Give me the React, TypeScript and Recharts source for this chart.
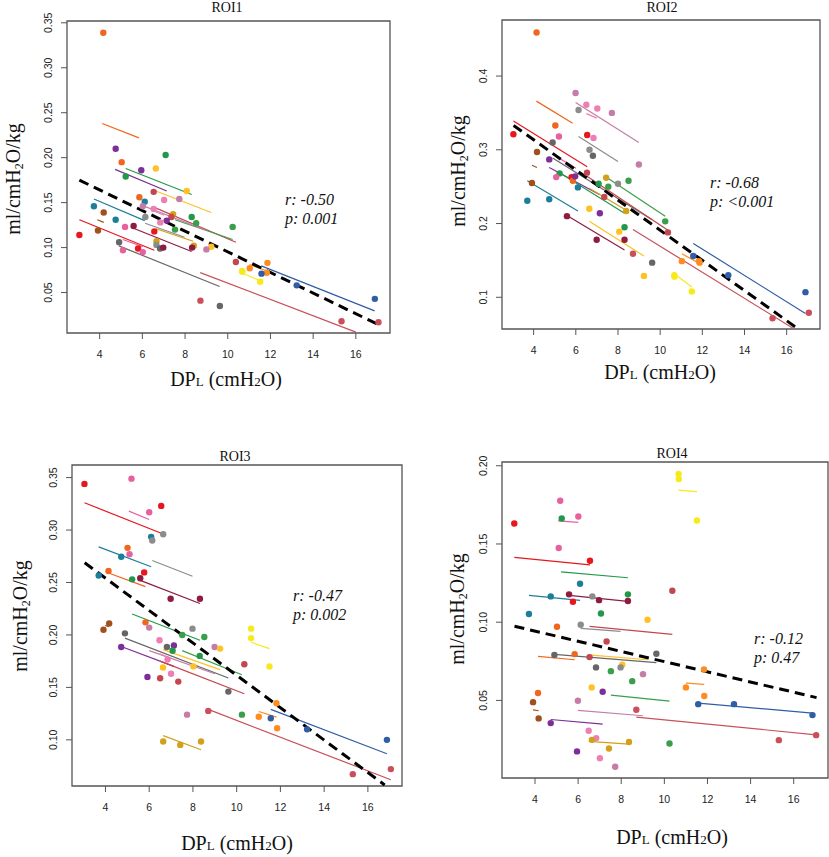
import React from 'react';
import { ScatterChart, Scatter, XAxis, YAxis, ReferenceLine, ReferenceArea } from 'recharts';

// [DPL, value, subject]
type Pt = [number, number, string];
// [subject, x1, y1, x2, y2] per-subject fitted line
type Seg = [string, number, number, number, number];

const SUBJECT_COLORS: Record<string, string> = {
  A: '#e8161e', B: '#f0661e', C: '#7d2e98', D: '#22994a', E: '#3a9e4a',
  F: '#ffc125', G: '#f7ea1c', H: '#1d7e98', I: '#a0501c', J: '#e8619f',
  T: '#ee7fb4', K: '#c57da8', L: '#8c8c8c', M: '#666666', N: '#8e1b40',
  O: '#c2474f', P: '#c9505a', Q: '#d2a01c', R: '#2f5da6', S: '#ff8c21',
};

const X_TICKS = [4, 6, 8, 10, 12, 14, 16];
const ROI1_Y_TICKS = [0.05, 0.1, 0.15, 0.2, 0.25, 0.3, 0.35];
const ROI2_Y_TICKS = [0.1, 0.2, 0.3, 0.4];
const ROI3_Y_TICKS = [0.1, 0.15, 0.2, 0.25, 0.3, 0.35];
const ROI4_Y_TICKS = [0.05, 0.1, 0.15, 0.2];

const ROI1_POINTS: Pt[] = [
  [4.17, 0.339, 'B'], [4.75, 0.21, 'C'], [5.03, 0.195, 'B'], [5.22, 0.179, 'D'], [5.95, 0.186, 'C'],
  [6.63, 0.188, 'F'], [7.09, 0.203, 'D'], [8.08, 0.163, 'F'], [6.53, 0.162, 'O'], [5.86, 0.156, 'B'],
  [6.11, 0.151, 'H'], [7.02, 0.153, 'T'], [7.73, 0.154, 'K'], [3.73, 0.146, 'H'], [6.02, 0.146, 'K'],
  [6.53, 0.143, 'T'], [4.19, 0.139, 'I'], [7.44, 0.137, 'Q'], [6.14, 0.134, 'L'], [7.36, 0.134, 'O'],
  [8.31, 0.134, 'D'], [8.52, 0.127, 'E'], [6.84, 0.128, 'T'], [7.14, 0.13, 'C'], [4.75, 0.131, 'H'],
  [7.53, 0.12, 'E'], [10.23, 0.123, 'E'], [3.05, 0.114, 'A'], [3.92, 0.119, 'I'], [5.19, 0.123, 'J'],
  [5.59, 0.124, 'N'], [6.56, 0.118, 'A'], [6.66, 0.107, 'Q'], [4.91, 0.106, 'M'], [8.41, 0.102, 'Q'],
  [9.23, 0.101, 'F'], [8.33, 0.1, 'N'], [6.66, 0.103, 'L'], [6.83, 0.099, 'M'], [6.98, 0.1, 'N'],
  [9.0, 0.098, 'K'], [5.09, 0.097, 'J'], [5.8, 0.099, 'A'], [6.02, 0.095, 'J'], [10.38, 0.084, 'O'],
  [11.03, 0.077, 'S'], [11.86, 0.083, 'S'], [11.83, 0.072, 'S'], [10.69, 0.073, 'G'], [10.67, 0.074, 'G'],
  [11.52, 0.062, 'G'], [11.58, 0.071, 'R'], [13.23, 0.058, 'R'], [16.89, 0.043, 'R'], [8.72, 0.041, 'P'],
  [9.63, 0.035, 'M'], [15.33, 0.018, 'P'], [17.06, 0.017, 'P'],
];
const ROI1_LINES: Seg[] = [
  ['B', 4.12, 0.238, 5.84, 0.222], ['C', 4.72, 0.187, 7.14, 0.163], ['D', 5.22, 0.188, 8.31, 0.159],
  ['F', 6.63, 0.163, 9.23, 0.139], ['O', 6.53, 0.145, 10.38, 0.106], ['E', 7.53, 0.131, 10.23, 0.109],
  ['H', 3.73, 0.154, 6.11, 0.13], ['A', 3.05, 0.131, 6.56, 0.097], ['I', 3.89, 0.131, 4.19, 0.128],
  ['K', 5.99, 0.147, 9.0, 0.119], ['T', 6.49, 0.141, 7.02, 0.136], ['L', 6.13, 0.127, 7.98, 0.1115],
  ['Q', 6.64, 0.121, 8.38, 0.107], ['N', 5.58, 0.1215, 8.31, 0.0956], ['M', 4.9, 0.1019, 9.62, 0.0567],
  ['J', 5.08, 0.109, 6.01, 0.101], ['P', 8.71, 0.0722, 16.0, 0.006], ['R', 11.57, 0.0796, 16.88, 0.0296],
  ['S', 11.02, 0.081, 11.85, 0.074], ['G', 10.67, 0.0715, 11.51, 0.0633],
];
const ROI1_FIT: [number, number][] = [[3.05, 0.175], [17.06, 0.0143]];

const ROI2_POINTS: Pt[] = [
  [4.14, 0.459, 'B'], [5.99, 0.377, 'K'], [6.5, 0.361, 'T'], [7.02, 0.356, 'T'], [7.71, 0.35, 'K'],
  [6.13, 0.354, 'L'], [3.04, 0.321, 'A'], [5.03, 0.333, 'B'], [5.2, 0.318, 'J'], [4.9, 0.31, 'M'],
  [6.54, 0.32, 'A'], [6.84, 0.316, 'T'], [4.16, 0.297, 'I'], [6.65, 0.3, 'L'], [6.81, 0.292, 'M'],
  [8.99, 0.28, 'K'], [4.74, 0.287, 'C'], [6.53, 0.269, 'O'], [5.23, 0.268, 'D'], [5.07, 0.263, 'J'],
  [5.8, 0.263, 'A'], [5.86, 0.258, 'B'], [5.97, 0.264, 'C'], [6.1, 0.249, 'H'], [3.92, 0.255, 'I'],
  [7.44, 0.262, 'Q'], [7.08, 0.254, 'D'], [7.54, 0.25, 'E'], [8.5, 0.258, 'E'], [8.0, 0.254, 'L'],
  [7.35, 0.236, 'O'], [3.7, 0.231, 'H'], [4.74, 0.233, 'H'], [6.64, 0.22, 'F'], [7.14, 0.214, 'C'],
  [8.39, 0.217, 'Q'], [8.31, 0.195, 'D'], [5.58, 0.21, 'N'], [8.06, 0.189, 'F'], [10.24, 0.203, 'E'],
  [10.37, 0.188, 'O'], [6.99, 0.178, 'N'], [8.31, 0.178, 'N'], [8.71, 0.159, 'P'], [9.62, 0.147, 'M'],
  [9.23, 0.129, 'F'], [11.03, 0.149, 'S'], [11.57, 0.156, 'R'], [11.84, 0.149, 'S'], [11.87, 0.147, 'S'],
  [10.67, 0.13, 'G'], [10.68, 0.128, 'G'], [11.5, 0.108, 'G'], [13.23, 0.13, 'R'], [16.89, 0.107, 'R'],
  [15.33, 0.0715, 'P'], [17.05, 0.079, 'P'],
];
const ROI2_LINES: Seg[] = [
  ['B', 4.13, 0.366, 5.85, 0.336], ['K', 5.99, 0.364, 8.99, 0.31], ['T', 6.5, 0.349, 7.0, 0.343],
  ['A', 3.04, 0.339, 6.54, 0.277], ['L', 6.13, 0.318, 8.0, 0.284], ['I', 3.92, 0.279, 4.16, 0.276],
  ['M', 4.9, 0.289, 9.62, 0.205], ['C', 4.74, 0.276, 7.14, 0.239], ['D', 5.23, 0.269, 8.31, 0.214],
  ['H', 3.7, 0.258, 6.1, 0.217], ['Q', 6.64, 0.248, 8.39, 0.218], ['E', 7.54, 0.261, 10.24, 0.21],
  ['O', 6.53, 0.264, 10.37, 0.191], ['N', 5.58, 0.211, 8.31, 0.164], ['F', 6.64, 0.203, 9.23, 0.156],
  ['P', 8.71, 0.192, 16.3, 0.058], ['R', 11.57, 0.173, 16.89, 0.078], ['S', 11.03, 0.159, 11.86, 0.146],
  ['G', 10.67, 0.132, 11.5, 0.114], ['J', 5.07, 0.291, 6.01, 0.275],
];
const ROI2_FIT: [number, number][] = [[3.05, 0.333], [16.5, 0.058]];

const ROI3_POINTS: Pt[] = [
  [3.04, 0.344, 'A'], [5.19, 0.349, 'J'], [6.55, 0.323, 'A'], [6.0, 0.317, 'J'], [6.64, 0.296, 'L'],
  [6.09, 0.2935, 'H'], [6.14, 0.29, 'L'], [5.01, 0.283, 'B'], [5.1, 0.277, 'J'], [4.72, 0.2745, 'H'],
  [5.77, 0.2596, 'A'], [3.69, 0.2567, 'H'], [4.14, 0.261, 'B'], [5.59, 0.254, 'N'], [5.22, 0.253, 'D'],
  [6.98, 0.2345, 'N'], [8.32, 0.2345, 'N'], [4.17, 0.211, 'I'], [3.91, 0.205, 'I'], [5.83, 0.212, 'B'],
  [6.0, 0.207, 'K'], [4.89, 0.2015, 'M'], [7.98, 0.206, 'L'], [7.51, 0.2, 'E'], [8.52, 0.198, 'E'],
  [10.66, 0.206, 'G'], [10.66, 0.197, 'G'], [6.47, 0.195, 'T'], [7.13, 0.19, 'C'], [6.81, 0.1885, 'M'],
  [8.99, 0.1885, 'K'], [9.24, 0.187, 'F'], [4.72, 0.1885, 'C'], [7.07, 0.185, 'D'], [8.31, 0.18, 'D'],
  [6.84, 0.1765, 'T'], [8.02, 0.17, 'F'], [6.63, 0.169, 'F'], [11.5, 0.17, 'G'], [10.35, 0.172, 'O'],
  [7.0, 0.163, 'T'], [5.92, 0.16, 'C'], [6.5, 0.1587, 'O'], [7.33, 0.1555, 'O'], [9.62, 0.146, 'M'],
  [11.82, 0.135, 'S'], [8.7, 0.1276, 'P'], [7.73, 0.124, 'K'], [10.24, 0.124, 'E'], [11.01, 0.122, 'S'],
  [11.56, 0.1206, 'R'], [11.85, 0.111, 'S'], [13.22, 0.11, 'R'], [6.64, 0.0984, 'Q'], [7.42, 0.0952, 'Q'],
  [8.37, 0.0984, 'Q'], [16.87, 0.1, 'R'], [15.31, 0.0673, 'P'], [17.05, 0.0721, 'P'],
];
const ROI3_LINES: Seg[] = [
  ['A', 3.04, 0.326, 6.55, 0.297], ['J', 5.07, 0.318, 6.0, 0.31], ['H', 3.69, 0.284, 6.09, 0.265],
  ['L', 6.14, 0.271, 7.98, 0.256], ['B', 4.14, 0.259, 5.83, 0.246], ['N', 5.59, 0.252, 8.32, 0.23],
  ['D', 5.22, 0.22, 8.32, 0.195], ['M', 4.89, 0.197, 9.62, 0.159], ['C', 4.72, 0.189, 7.13, 0.17],
  ['O', 6.5, 0.175, 10.35, 0.144], ['F', 6.63, 0.186, 9.24, 0.167], ['E', 7.51, 0.185, 10.24, 0.162],
  ['K', 6.0, 0.185, 9.0, 0.163], ['T', 6.47, 0.182, 7.0, 0.178], ['G', 10.66, 0.193, 11.5, 0.187],
  ['S', 11.01, 0.127, 11.82, 0.1216], ['R', 11.56, 0.129, 16.87, 0.0867], ['P', 8.7, 0.129, 17.05, 0.062],
  ['Q', 6.64, 0.104, 8.37, 0.0905], ['I', 3.98, 0.209, 4.17, 0.208],
];
const ROI3_FIT: [number, number][] = [[3.05, 0.2688], [16.77, 0.057]];

const ROI4_POINTS: Pt[] = [
  [10.66, 0.1947, 'G'], [10.67, 0.1915, 'G'], [11.51, 0.165, 'G'], [5.17, 0.1776, 'J'], [5.24, 0.1663, 'D'],
  [6.01, 0.1676, 'J'], [3.04, 0.1631, 'A'], [5.1, 0.1474, 'J'], [6.55, 0.1393, 'A'], [6.09, 0.1246, 'H'],
  [10.37, 0.1201, 'O'], [4.73, 0.1165, 'H'], [5.58, 0.1178, 'N'], [6.66, 0.1165, 'L'], [6.97, 0.1141, 'N'],
  [8.31, 0.1178, 'D'], [8.31, 0.1135, 'N'], [5.76, 0.1131, 'A'], [3.72, 0.1052, 'H'], [7.06, 0.1056, 'D'],
  [9.22, 0.1016, 'F'], [5.02, 0.0971, 'B'], [6.12, 0.0984, 'L'], [7.32, 0.0877, 'O'], [9.63, 0.0798, 'M'],
  [4.9, 0.079, 'M'], [5.84, 0.0796, 'B'], [6.53, 0.0777, 'O'], [8.05, 0.0728, 'F'], [6.83, 0.0711, 'M'],
  [7.97, 0.0711, 'L'], [7.52, 0.0687, 'E'], [11.84, 0.0698, 'S'], [9.01, 0.0668, 'K'], [8.51, 0.0623, 'E'],
  [6.63, 0.0583, 'F'], [11.0, 0.0583, 'S'], [7.14, 0.0555, 'C'], [4.14, 0.0547, 'B'], [11.85, 0.0528, 'S'],
  [3.91, 0.0489, 'I'], [5.99, 0.0498, 'K'], [11.57, 0.0476, 'R'], [13.23, 0.0476, 'R'], [8.7, 0.044, 'P'],
  [16.87, 0.0406, 'R'], [4.17, 0.0385, 'I'], [4.73, 0.0355, 'C'], [6.49, 0.0306, 'T'], [6.84, 0.0259, 'T'],
  [6.64, 0.0248, 'Q'], [8.36, 0.0234, 'Q'], [17.04, 0.0278, 'P'], [15.31, 0.0246, 'P'], [10.24, 0.0225, 'E'],
  [7.43, 0.0193, 'Q'], [5.95, 0.0174, 'C'], [7.01, 0.0131, 'T'], [7.72, 0.0076, 'K'],
];
const ROI4_LINES: Seg[] = [
  ['G', 10.65, 0.1844, 11.51, 0.1834], ['J', 5.07, 0.1648, 6.01, 0.1638], ['A', 3.04, 0.1414, 6.55, 0.1367],
  ['D', 5.21, 0.1322, 8.31, 0.1284], ['H', 3.72, 0.1171, 6.09, 0.1139], ['N', 5.58, 0.1171, 8.31, 0.1133],
  ['O', 6.53, 0.0973, 10.37, 0.0922], ['L', 6.12, 0.096, 7.97, 0.0941], ['B', 4.14, 0.0781, 5.84, 0.076],
  ['M', 4.9, 0.0794, 9.63, 0.0741], ['F', 6.63, 0.079, 9.22, 0.076], ['S', 11.0, 0.061, 11.85, 0.0602],
  ['E', 7.52, 0.0534, 10.24, 0.0496], ['I', 3.91, 0.044, 4.17, 0.0434], ['R', 11.57, 0.0483, 16.87, 0.0419],
  ['K', 5.99, 0.0436, 9.01, 0.0402], ['P', 8.7, 0.0393, 17.04, 0.028], ['C', 4.73, 0.0378, 7.14, 0.0349],
  ['Q', 6.49, 0.0238, 8.36, 0.0221],
];
const ROI4_FIT: [number, number][] = [[3.05, 0.0974], [17.06, 0.0518]];

const SANS = '"Liberation Sans", Arial, sans-serif';
const SERIF = '"Liberation Serif", "Times New Roman", serif';

type Box = { x0: number; x1: number; y0: number; y1: number };

const PAD_L = 60;
const PAD_T = 30;
const PAD_R = 20;
const PAD_B = 60;

function Panel(props: {
  box: Box;
  xDomain: [number, number];
  yDomain: [number, number];
  yTicks: number[];
  digits: number;
  points: Pt[];
  lines: Seg[];
  fit: [number, number][];
}) {
  const { box, xDomain, yDomain, yTicks, digits, points, lines, fit } = props;
  const w = box.x1 - box.x0;
  const h = box.y1 - box.y0;
  const data = points.map(([x, y, s]) => ({ x, y, s }));

  const yTick = (p: any) => (
    <text
      x={0}
      y={0}
      dy="0.35em"
      transform={`translate(${p.x},${p.y}) rotate(-90)`}
      textAnchor="middle"
      fill="#222"
      fontSize={10.5}
      fontFamily={SANS}
    >
      {Number(p.payload.value).toFixed(digits)}
    </text>
  );

  const dot = (p: any) => (
    <circle cx={p.cx} cy={p.cy} r={3.2} fill={SUBJECT_COLORS[p.payload.s]} />
  );

  return (
    <div style={{ position: 'absolute', left: box.x0 - PAD_L, top: box.y0 - PAD_T }}>
      <ScatterChart
        width={w + PAD_L + PAD_R}
        height={h + PAD_T + PAD_B}
        margin={{ top: PAD_T, right: PAD_R, bottom: PAD_B - 30, left: PAD_L - 40 }}
      >
        <XAxis
          type="number"
          dataKey="x"
          domain={xDomain}
          ticks={X_TICKS}
          allowDataOverflow
          interval={0}
          height={30}
          axisLine={false}
          tickSize={6}
          tickMargin={12}
          tickLine={{ stroke: '#555' }}
          tick={{ fill: '#222', fontSize: 10.5, fontFamily: SANS }}
        />
        <YAxis
          type="number"
          dataKey="y"
          domain={yDomain}
          ticks={yTicks}
          allowDataOverflow
          interval={0}
          width={40}
          axisLine={false}
          tickSize={6}
          tickMargin={13}
          tickLine={{ stroke: '#555' }}
          tick={yTick}
        />
        <ReferenceArea
          x1={xDomain[0]}
          x2={xDomain[1]}
          y1={yDomain[0]}
          y2={yDomain[1]}
          fill="none"
          stroke="#555"
          strokeWidth={1.3}
          ifOverflow="visible"
        />
        {lines.map(([s, x1, y1, x2, y2], i) => (
          <ReferenceLine
            key={i}
            segment={[{ x: x1, y: y1 }, { x: x2, y: y2 }]}
            stroke={SUBJECT_COLORS[s]}
            strokeWidth={1.2}
            ifOverflow="visible"
          />
        ))}
        <Scatter data={data} isAnimationActive={false} shape={dot} />
        <ReferenceLine
          segment={[{ x: fit[0][0], y: fit[0][1] }, { x: fit[1][0], y: fit[1][1] }]}
          stroke="#000"
          strokeWidth={3}
          strokeDasharray="10 6"
          ifOverflow="visible"
        />
      </ScatterChart>
    </div>
  );
}

const XTitle = ({ x, y }: { x: number; y: number }) => (
  <text x={x} y={y} textAnchor="middle" fontFamily={SERIF} fontSize={20} fill="#111">
    DP<tspan fontSize={13}>L</tspan> (cmH<tspan fontSize={13}>2</tspan>O)
  </text>
);

const YTitle = ({ x, y }: { x: number; y: number }) => (
  <text transform={`translate(${x},${y}) rotate(-90)`} textAnchor="middle" fontFamily={SERIF} fontSize={20} fill="#111">
    ml/cmH<tspan fontSize={12} dy={3}>2</tspan>
    <tspan dy={-3}>O/kg</tspan>
  </text>
);

const Stats = ({ x, y, r, p }: { x: number; y: number; r: string; p: string }) => (
  <g fontFamily={SERIF} fontStyle="italic" fontSize={16} fill="#111">
    <text x={x} y={y}>{r}</text>
    <text x={x} y={y + 19}>{p}</text>
  </g>
);

export default function App() {
  return (
    <div style={{ position: 'absolute', left: 0, top: 0, width: 829, height: 857, overflow: 'hidden', background: '#fff' }}>
      <Panel box={{ x0: 67, x1: 390, y0: 21, y1: 333 }} xDomain={[2.47, 17.6]} yDomain={[0.005, 0.352]}
        yTicks={ROI1_Y_TICKS} digits={2} points={ROI1_POINTS} lines={ROI1_LINES} fit={ROI1_FIT} />
      <Panel box={{ x0: 502, x1: 820, y0: 20, y1: 329 }} xDomain={[2.5, 17.58]} yDomain={[0.057, 0.476]}
        yTicks={ROI2_Y_TICKS} digits={1} points={ROI2_POINTS} lines={ROI2_LINES} fit={ROI2_FIT} />
      <Panel box={{ x0: 72, x1: 402, y0: 465, y1: 786 }} xDomain={[2.47, 17.56]} yDomain={[0.056, 0.362]}
        yTicks={ROI3_Y_TICKS} digits={2} points={ROI3_POINTS} lines={ROI3_LINES} fit={ROI3_FIT} />
      <Panel box={{ x0: 502, x1: 828, y0: 462, y1: 778 }} xDomain={[2.47, 17.59]} yDomain={[0.0004, 0.2024]}
        yTicks={ROI4_Y_TICKS} digits={2} points={ROI4_POINTS} lines={ROI4_LINES} fit={ROI4_FIT} />
      <svg width={829} height={857} style={{ position: 'absolute', left: 0, top: 0, pointerEvents: 'none' }}>
        <g fontFamily={SERIF} fontSize={14} fill="#111" textAnchor="middle">
          <text x={227} y={12}>ROI1</text>
          <text x={662} y={12}>ROI2</text>
          <text x={235} y={461}>ROI3</text>
          <text x={672} y={458}>ROI4</text>
        </g>
        <XTitle x={226} y={386} />
        <XTitle x={660} y={379} />
        <XTitle x={237} y={850} />
        <XTitle x={672} y={844} />
        <YTitle x={20} y={179} />
        <YTitle x={465} y={171} />
        <YTitle x={27} y={616} />
        <YTitle x={464} y={609} />
        <Stats x={285} y={205} r="r: -0.50" p="p: 0.001" />
        <Stats x={710} y={188} r="r: -0.68" p="p: <0.001" />
        <Stats x={293} y={601} r="r: -0.47" p="p: 0.002" />
        <Stats x={754} y={644} r="r: -0.12" p="p: 0.47" />
      </svg>
    </div>
  );
}
